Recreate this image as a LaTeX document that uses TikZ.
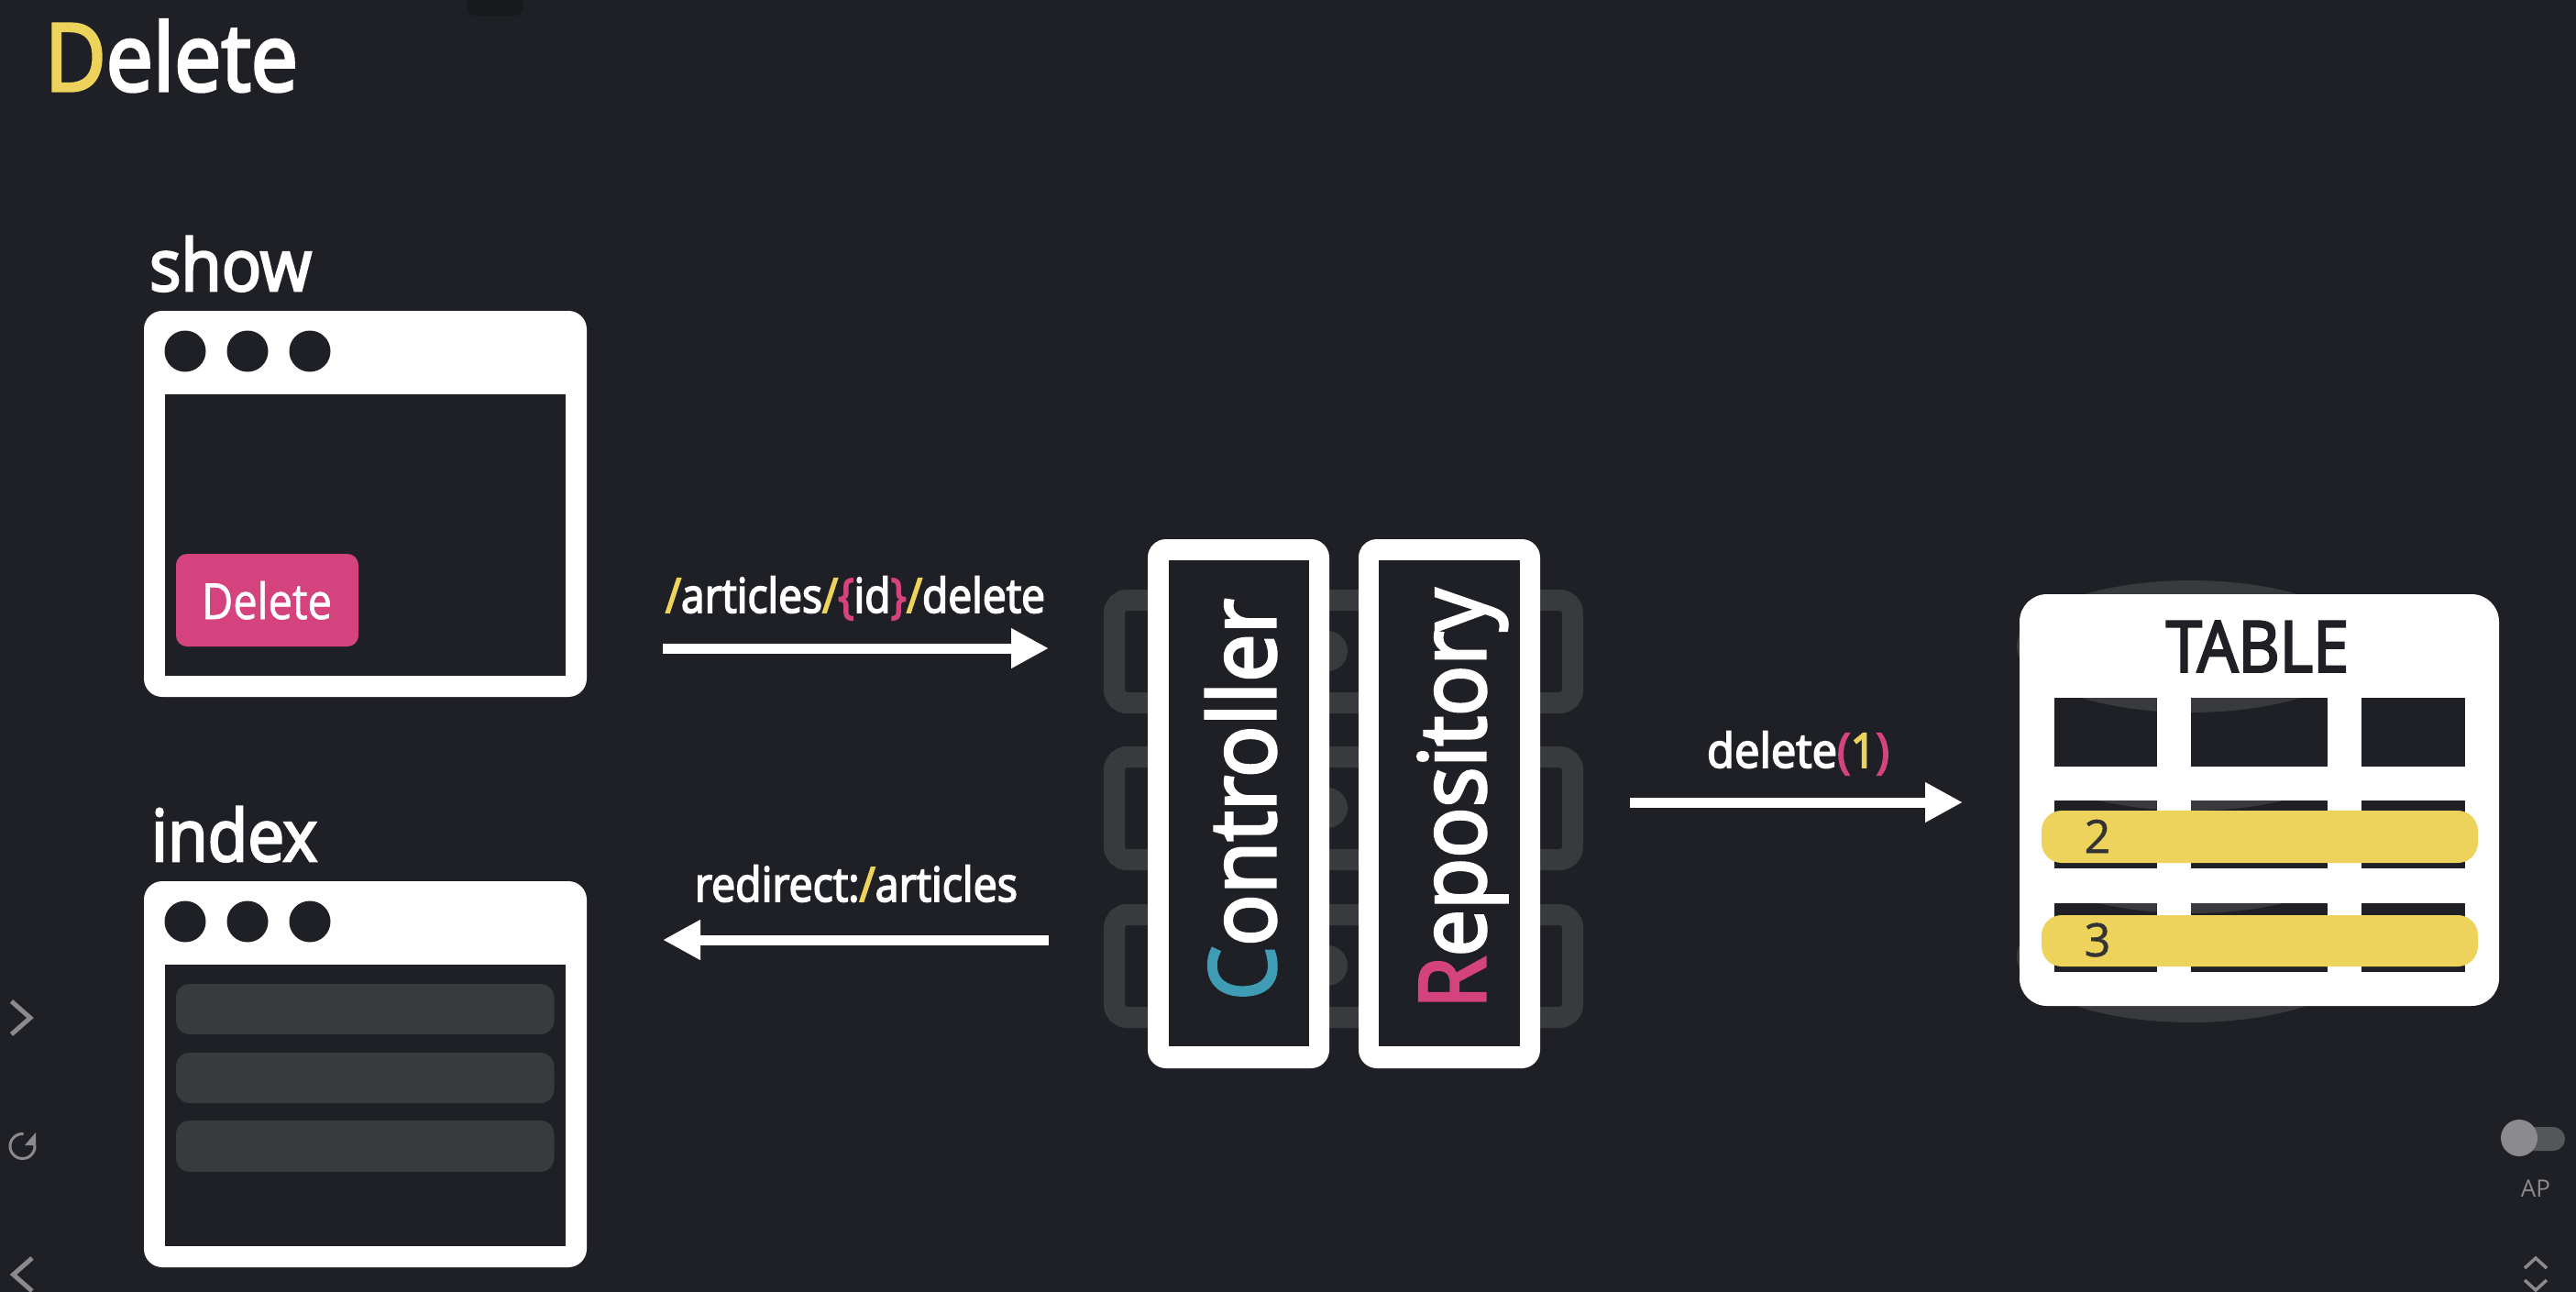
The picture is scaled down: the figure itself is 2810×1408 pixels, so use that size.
\documentclass[tikz,border=0pt]{standalone}
\usepackage{fontspec}
\usepackage{graphicx}
\usetikzlibrary{arrows.meta}
\newfontfamily\basef{Open Sans}
\newfontfamily\emb{Open Sans}[FakeBold=3.4]
\newfontfamily\embm{Open Sans}[FakeBold=1.2]
\definecolor{bgc}{HTML}{1F2025}
\definecolor{tabc}{HTML}{18191C}
\definecolor{ghost}{HTML}{393A3D}
\definecolor{yel}{HTML}{EDD35C}
\definecolor{pnk}{HTML}{D5437F}
\definecolor{cyn}{HTML}{3F9CB5}
\definecolor{uig}{HTML}{8B8B8E}
\definecolor{trk}{HTML}{55565A}
\newcommand{\fit}[4]{\resizebox{#1pt}{\height}{\fontsize{#2pt}{#2pt}\selectfont #3#4}}
\tikzset{
  x=1pt,y=-1pt,
  lab/.style={anchor=base west,inner sep=0pt,outer sep=0pt,text=white},
  flow/.style={draw=white,line width=11pt,-{Triangle[length=41pt,width=41pt]}},
  card/.style={fill=white,rounded corners=20pt},
  dark/.style={fill=bgc},
  dot/.style={fill=bgc},
  bar/.style={fill=ghost,rounded corners=15pt},
  hl/.style={fill=yel,rounded corners=22pt},
  ghostbox/.style={draw=ghost,line width=23pt,rounded corners=14pt},
  chev/.style={draw=uig,line width=5pt},
}
\newcommand{\win}[2]{%
  \fill[card] (157,#1) rectangle (640,#1+421);
  \fill[dark] (180,#1+91) rectangle (617,#1+398);
  \foreach \cx in {202,270,338} \fill[dot] (\cx,#1+44) circle (22.5);
}
\begin{document}
\begin{tikzpicture}
\useasboundingbox (0,0) rectangle (2810,1408);
\fill[bgc] (-5,-5) rectangle (2815,1413);
% top tab
\fill[tabc,rounded corners=8pt] (510,-20) rectangle (570,17);
% title
\node[lab] (title) at (49,99) {\emb\fit{276}{102}{\color{yel}D}{\color{white}elete}};
% windows
\node[lab] (showlab) at (163,317) {\emb\fit{177}{78}{}{show}};
\win{339}{show}
\fill[pnk,rounded corners=12pt] (192,604) rectangle (391,705);
\node[lab] (delbtn) at (220,675) {\embm\fit{142}{54}{}{Delete}};
\node[lab] (indexlab) at (165,939) {\emb\fit{181}{78}{}{index}};
\win{961}{index}
\fill[bar] (192,1073) rectangle (604.5,1128);
\fill[bar] (192,1148) rectangle (604.5,1203);
\fill[bar] (192,1222) rectangle (604.5,1278);
% flows
\coordinate (a1s) at (723,707); \coordinate (a1e) at (1144,707);
\coordinate (a2s) at (1144,1025); \coordinate (a2e) at (723,1025);
\coordinate (a3s) at (1778,875); \coordinate (a3e) at (2141,875);
\draw[flow] (a1s) -- (a1e);
\draw[flow] (a2s) -- (a2e);
\draw[flow] (a3s) -- (a3e);
\node[lab] (l1) at (726,668) {\emb\resizebox{414pt}{\height}{\fontsize{52pt}{52pt}\selectfont\textcolor{yel}{/}articles\textcolor{yel}{/}\textcolor{pnk}{\{}id\textcolor{pnk}{\}}\textcolor{yel}{/}delete}};
\node[lab] (l2) at (758,983) {\emb\resizebox{352pt}{\height}{\fontsize{52pt}{52pt}\selectfont redirect:\textcolor{yel}{/}articles}};
\node[lab] (l3) at (1862,837) {\emb\resizebox{199pt}{\height}{\fontsize{52pt}{52pt}\selectfont delete\textcolor{pnk}{(}\textcolor{yel}{1}\textcolor{pnk}{)}}};
% ghost server racks
\foreach \ry in {643,814,986}{
  \draw[ghostbox] (1215.5,\ry+11.5) rectangle (1715.5,\ry+123.5);
  \fill[ghost] (1448,\ry+67) circle (22);
}
% controller & repository
\fill[white,rounded corners=20pt] (1252,588) rectangle (1450,1165);
\fill[dark] (1275,611) rectangle (1428,1141);
\fill[white,rounded corners=20pt] (1482,588) rectangle (1680,1165);
\fill[dark] (1504,611) rectangle (1658,1141);
\node[lab,rotate=90] (ctrl) at (1391,1091) {\emb\resizebox{438pt}{\height}{\fontsize{100pt}{100pt}\selectfont\textcolor{cyn}{C}ontroller}};
\node[lab,rotate=90] (repo) at (1620,1100) {\emb\resizebox{458pt}{\height}{\fontsize{100pt}{100pt}\selectfont\textcolor{pnk}{R}epository}};
% table
\fill[ghost] (2390,705) ellipse [x radius=190,y radius=72];
\fill[ghost] (2390,1043) ellipse [x radius=190,y radius=72];
\fill[white,rounded corners=30pt] (2203,648) rectangle (2726,1097);
\foreach \yt/\yb/\ec in {761/835.5/705,873/947/812,985/1060/924}{
  \foreach \xl/\xr in {2240.5/2352.5,2390/2539,2576/2689}{
    \fill[dark] (\xl,\yt) rectangle (\xr,\yb);
    \begin{scope}
      \clip (\xl,\yt) rectangle (\xr,\yb);
      \fill[ghost] (2390,\ec) ellipse [x radius=190,y radius=72];
    \end{scope}
  }
}
\node[lab,text=bgc] (tbl) at (2363,732.6) {\emb\resizebox{199pt}{\height}{\fontsize{77pt}{77pt}\selectfont TABLE}};
\fill[hl] (2227,884) rectangle (2703,941);
\fill[hl] (2227,998) rectangle (2703,1054);
\node[inner sep=0pt,text=black!80] (two) at (2288,912) {\embm\fontsize{50pt}{50pt}\selectfont 2};
\node[inner sep=0pt,text=black!80] (three) at (2288,1025) {\embm\fontsize{50pt}{50pt}\selectfont 3};
% ui overlays
\draw[chev] (12.5,1092) -- (33,1110) -- (12.5,1128);
\draw[chev,line width=3pt] plot[domain=-85:-365,samples=40] ({24.5+13.5*cos(\x)},{1250+13.5*sin(\x)});
\fill[uig] (39,1235) -- (39,1249) -- (27,1249) -- cycle;
\draw[chev] (35,1372) -- (14.5,1390) -- (35,1408);
\fill[trk,rounded corners=13pt] (2730,1229) rectangle (2798,1255);
\fill[uig] (2748,1241) circle (20);
\node[inner sep=0pt,text=uig] (ap) at (2766,1296) {\basef\fontsize{26pt}{26pt}\selectfont AP};
\draw[chev,line width=3.5pt] (2754,1383) -- (2766,1372) -- (2778,1383);
\draw[chev,line width=3.5pt] (2754,1396) -- (2766,1407) -- (2778,1396);
\end{tikzpicture}
\end{document}
